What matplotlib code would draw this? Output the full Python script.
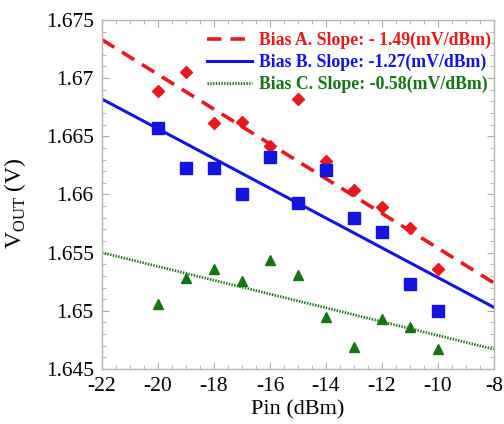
import matplotlib
matplotlib.use("Agg")
import matplotlib.pyplot as plt
from matplotlib.ticker import MultipleLocator

plt.rcParams['font.family'] = ['Liberation Serif', 'DejaVu Serif']
plt.rcParams['mathtext.fontset'] = 'custom'
plt.rcParams['mathtext.rm'] = 'Liberation Serif'
plt.rcParams['axes.unicode_minus'] = False

# measured points
pin = [-20, -19, -18, -17, -16, -15, -14, -13, -12, -11, -10]
vout_a = [1.6689, 1.6705, 1.6661, 1.6662, 1.6642, 1.6682, 1.6629, 1.6604, 1.6589, 1.6571, 1.6536]
vout_b = [1.6657, 1.6623, 1.6623, 1.6600, 1.6632, 1.6593, 1.6621, 1.6580, 1.6568, 1.6523, 1.6500]
vout_c = [1.6506, 1.6528, 1.6536, 1.6526, 1.6544, 1.6531, 1.6495, 1.6469, 1.6493, 1.6486, 1.6467]

# fit lines (end points)
fit_x = [-22, -8]
fit_a = [1.6733, 1.6524]
fit_b = [1.6682, 1.6503]
fit_c = [1.6550, 1.6467]

labels = ["Bias A. Slope: - 1.49(mV/dBm)",
          "Bias B. Slope: -1.27(mV/dBm)",
          "Bias C. Slope: -0.58(mV/dBm)"]

red = "#e8191c"
blue = "#1414e0"
green = "#137513"

fig = plt.figure(figsize=(5.04, 4.24), dpi=100)
ax = fig.add_axes([0.2024, 0.1297, 0.7776, 0.8233])

la, = ax.plot(fit_x, fit_a, color=red, lw=2.6, linestyle=(0, (4, 2.5)))
lb, = ax.plot(fit_x, fit_b, color=blue, lw=2.2)
lc, = ax.plot(fit_x, fit_c, color=green, lw=2.0, linestyle=(0, (0.5, 0.5)))

ax.plot(pin, vout_a, linestyle='none', marker='D', ms=6.5, color=red)
ax.plot(pin, vout_b, linestyle='none', marker='s', ms=8, color=blue)
ax.plot(pin, vout_c, linestyle='none', marker='^', ms=7.5, color=green)

ax.set_xlim(-22, -8)
ax.set_ylim(1.645, 1.675)
ax.xaxis.set_major_locator(MultipleLocator(2))
ax.xaxis.set_minor_locator(MultipleLocator(0.5))
ax.yaxis.set_minor_locator(MultipleLocator(0.001))
ax.set_yticks([1.645, 1.65, 1.655, 1.66, 1.665, 1.67, 1.675])
ax.set_yticklabels(["1.645", "1.65", "1.655", "1.66", "1.665", "1.67", "1.675"])

ax.tick_params(which='both', direction='in', top=True, right=True, color='#aaaaaa',
               labelsize=15.5, pad=6)
ax.tick_params(which='major', length=5)
ax.tick_params(which='minor', length=3)
for s in ax.spines.values():
    s.set_color('#b5b5b5')
    s.set_linewidth(1.0)

ax.set_xlabel("Pin (dBm)", fontsize=16, labelpad=3)
ax.set_ylabel("V$_{\\rm OUT}$ (V)", fontsize=17)
ax.yaxis.set_label_coords(-0.19, 0.476)

leg = ax.legend([la, lb, lc], labels, loc='upper right', frameon=False,
                prop={'weight': 'bold', 'size': 12.8}, handlelength=2.5,
                handletextpad=0.4, borderaxespad=0, borderpad=0.1,
                labelspacing=0.28, bbox_to_anchor=(0.997, 0.972))
for txt, c in zip(leg.get_texts(), [red, blue, green]):
    txt.set_color(c)

fig.savefig("out.png", dpi=100)
